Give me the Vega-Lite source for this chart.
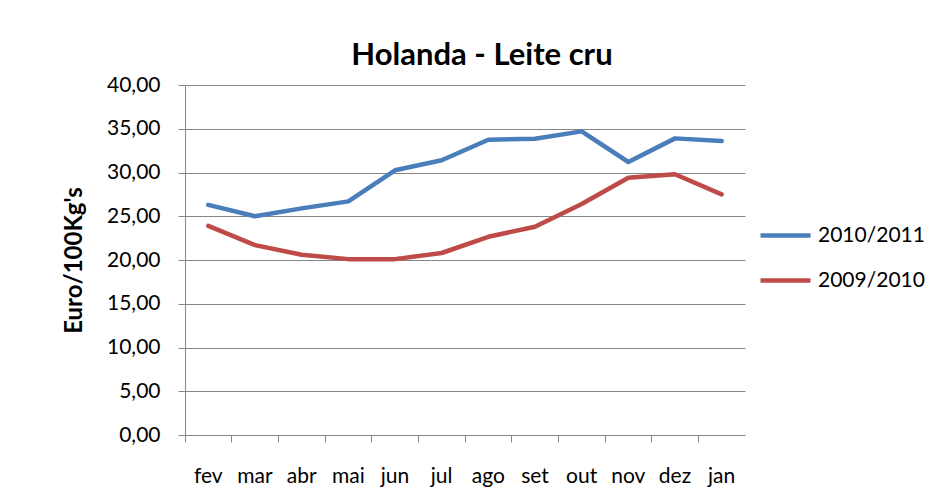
{
  "$schema": "https://vega.github.io/schema/vega-lite/v6.json",
  "autosize": {"type": "none"},
  "width": 560,
  "height": 350,
  "padding": {"left": 185, "top": 85, "right": 197, "bottom": 64},
  "background": "white",
  "config": {
    "locale": {"number": {"decimal": ",", "thousands": ".", "grouping": [3], "currency": ["€", ""]}},
    "font": "Lato, sans-serif",
    "view": {"stroke": null}
  },
  "title": {
    "text": "Holanda - Leite cru",
    "fontSize": 31,
    "fontWeight": "bold",
    "font": "Lato, sans-serif",
    "color": "#000000",
    "anchor": "middle",
    "offset": 2,
    "dx": 17
  },
  "data": {
    "values": [
      {"mes": "fev", "serie": "2010/2011", "valor": 26.3},
      {"mes": "mar", "serie": "2010/2011", "valor": 25.0},
      {"mes": "abr", "serie": "2010/2011", "valor": 25.9},
      {"mes": "mai", "serie": "2010/2011", "valor": 26.7},
      {"mes": "jun", "serie": "2010/2011", "valor": 30.25},
      {"mes": "jul", "serie": "2010/2011", "valor": 31.4},
      {"mes": "ago", "serie": "2010/2011", "valor": 33.75},
      {"mes": "set", "serie": "2010/2011", "valor": 33.85},
      {"mes": "out", "serie": "2010/2011", "valor": 34.7},
      {"mes": "nov", "serie": "2010/2011", "valor": 31.2},
      {"mes": "dez", "serie": "2010/2011", "valor": 33.9},
      {"mes": "jan", "serie": "2010/2011", "valor": 33.6},
      {"mes": "fev", "serie": "2009/2010", "valor": 23.9},
      {"mes": "mar", "serie": "2009/2010", "valor": 21.7},
      {"mes": "abr", "serie": "2009/2010", "valor": 20.6},
      {"mes": "mai", "serie": "2009/2010", "valor": 20.1},
      {"mes": "jun", "serie": "2009/2010", "valor": 20.1},
      {"mes": "jul", "serie": "2009/2010", "valor": 20.8},
      {"mes": "ago", "serie": "2009/2010", "valor": 22.65},
      {"mes": "set", "serie": "2009/2010", "valor": 23.8},
      {"mes": "out", "serie": "2009/2010", "valor": 26.4},
      {"mes": "nov", "serie": "2009/2010", "valor": 29.4},
      {"mes": "dez", "serie": "2009/2010", "valor": 29.8},
      {"mes": "jan", "serie": "2009/2010", "valor": 27.5}
    ]
  },
  "mark": {"type": "line", "strokeWidth": 4.5, "strokeCap": "round", "strokeJoin": "round"},
  "encoding": {
    "x": {
      "field": "mes",
      "type": "nominal",
      "sort": ["fev", "mar", "abr", "mai", "jun", "jul", "ago", "set", "out", "nov", "dez", "jan"],
      "scale": {"type": "band", "paddingInner": 0, "paddingOuter": 0},
      "axis": {
        "title": null,
        "labelAngle": 0,
        "bandPosition": 0,
        "labelAlign": "center",
        "labelFontSize": 21,
        "labelColor": "#000000",
        "labelPadding": 23,
        "tickSize": 7,
        "tickColor": "#868686",
        "domainColor": "#868686",
        "grid": false
      }
    },
    "y": {
      "field": "valor",
      "type": "quantitative",
      "scale": {"domain": [0, 40], "nice": false},
      "axis": {
        "title": "Euro/100Kg's",
        "titleFontSize": 24,
        "titleFontWeight": "bold",
        "titleColor": "#000000",
        "titlePadding": 20,
        "values": [0, 5, 10, 15, 20, 25, 30, 35, 40],
        "format": ".2f",
        "labelFontSize": 21,
        "labelColor": "#000000",
        "labelPadding": 18,
        "tickSize": 7,
        "tickColor": "#868686",
        "domainColor": "#868686",
        "gridColor": "#868686",
        "gridWidth": 1
      }
    },
    "color": {
      "field": "serie",
      "type": "nominal",
      "scale": {"domain": ["2010/2011", "2009/2010"], "range": ["#4A7EBB", "#BE4B48"]},
      "legend": {
        "title": null,
        "orient": "none",
        "legendX": 573,
        "legendY": 123,
        "symbolType": "stroke",
        "symbolSize": 2500,
        "symbolStrokeWidth": 4.5,
        "labelFontSize": 21,
        "labelColor": "#000000",
        "labelOffset": 5,
        "rowPadding": 7
      }
    }
  }
}
